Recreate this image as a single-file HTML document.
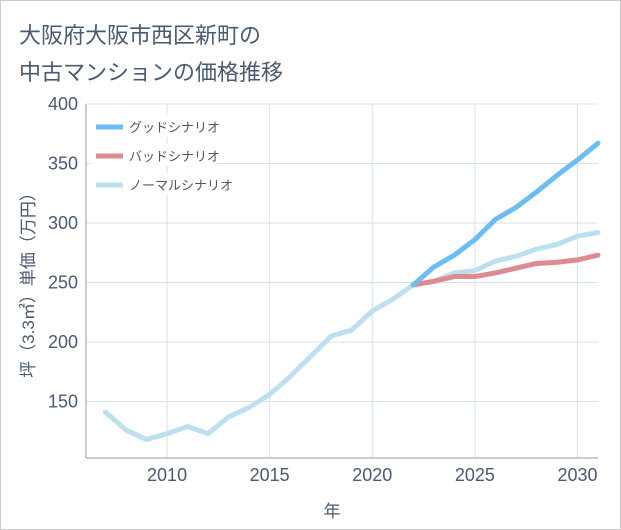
<!DOCTYPE html>
<html><head><meta charset="utf-8"><style>
body{margin:0;background:#fff;}
#wrap{position:relative;width:619px;height:528px;border:1px solid #ccc;background:#fff;font-family:"Liberation Sans","Noto Sans CJK JP",sans-serif;}
</style></head><body>
<div id="wrap">
<svg id="chart" width="619" height="528" style="position:absolute;left:0;top:0">
<text x="18" y="42" font-size="22" fill="#4a5a70" font-family="Liberation Sans, Noto Sans CJK JP, sans-serif">大阪府大阪市西区新町の</text>
<text x="18" y="79" font-size="22" fill="#4a5a70" font-family="Liberation Sans, Noto Sans CJK JP, sans-serif">中古マンションの価格推移</text>
<g id="grid"></g><g id="axes"></g><g id="series"></g><g id="legend"></g>
<text x="331" y="516" font-size="17" fill="#4a5a70" text-anchor="middle" font-family="Liberation Sans, Noto Sans CJK JP, sans-serif">年</text>
<text transform="translate(33,280) rotate(-90)" font-size="17" fill="#4a5a70" text-anchor="middle" font-family="Liberation Sans, Noto Sans CJK JP, sans-serif">坪（3.3㎡）単価（万円）</text>
</svg>
</div>
<script>
const years=[2007,2008,2009,2010,2011,2012,2013,2014,2015,2016,2017,2018,2019,2020,2021,2022,2023,2024,2025,2026,2027,2028,2029,2030,2031];
const normalValues=[141,126,118,123,129,123,137,145,156,171,188,205,210,226,236,248,251,258,260,268,272,278,282,289,292];
const goodYears=[2022,2023,2024,2025,2026,2027,2028,2029,2030,2031];
const goodValues=[248,263,273,286,303,313,326,340,353,367];
const badValues=[248,251,255,255,258,262,266,267,269,273];
const xTicks=[2010,2015,2020,2025,2030];
const yTicks=[150,200,250,300,350,400];
const NS='http://www.w3.org/2000/svg';
const L=85,R=597,T=103,B=457;
const x=v=>L+(v-2006.05)*(R-L)/(2031-2006.05);
const y=v=>B-(v-102.5)*(B-T)/(400-102.5);
function mk(tag,attrs,parent){const e=document.createElementNS(NS,tag);for(const k in attrs)e.setAttribute(k,attrs[k]);document.getElementById(parent).appendChild(e);return e;}
yTicks.forEach(v=>{
 const g=mk('line',{x1:L,x2:R,y1:y(v),y2:y(v),stroke:'#d4e2ec','stroke-width':1},'grid');
 
 
 const t=mk('text',{x:L-8,y:y(v)+6,'font-size':18,fill:'#4a5a70','text-anchor':'end'},'axes');
 t.textContent=v;
 
 
});
xTicks.forEach(v=>{
 const g=mk('line',{x1:x(v),x2:x(v),y1:T,y2:B,stroke:'#d4e2ec','stroke-width':1},'grid');
 
 
 const t=mk('text',{x:x(v),y:B+23,'font-size':18,fill:'#4a5a70','text-anchor':'middle'},'axes');
 t.textContent=v;
 
 
});
const ax=mk('line',{x1:L,x2:L,y1:T,y2:B,stroke:'#999','stroke-width':1},'axes');


const bx=mk('line',{x1:L,x2:R,y1:B,y2:B,stroke:'#999','stroke-width':1},'axes');


function line(xs,vs,color,name){
 const p=mk('polyline',{points:xs.map((d,i)=>x(d)+','+y(vs[i])).join(' '),fill:'none',stroke:color,'stroke-width':5,'stroke-linejoin':'round','stroke-linecap':'round'},'series');
 
 
}
line(years,normalValues,'#bde0ee','normal-scenario-line');
line(goodYears,badValues,'#dd8a90','bad-scenario-line');
line(goodYears,goodValues,'#6cbdf2','good-scenario-line');
[['グッドシナリオ','#6cbdf2'],['バッドシナリオ','#dd8a90'],['ノーマルシナリオ','#bde0ee']].forEach((d,i)=>{
 const yy=126+i*29;
 const bg=mk('rect',{x:90,y:yy-12,width:i==2?150:126,height:22,fill:'#fff'},'legend');
 
 
 const l=mk('line',{x1:95,x2:122,y1:yy,y2:yy,stroke:d[1],'stroke-width':5},'legend');
 
 
 const t=mk('text',{x:128,y:yy+5,'font-size':13,fill:'#555'},'legend');
 t.textContent=d[0];
 
 
});
</script>
</body></html>
